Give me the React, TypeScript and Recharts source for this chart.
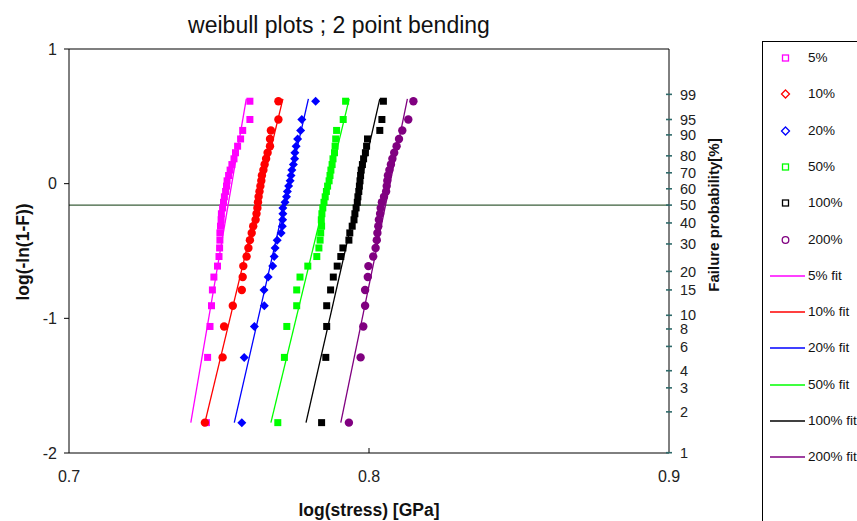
import React from 'react';
import { ScatterChart, Scatter, XAxis, YAxis, ReferenceLine } from 'recharts';

// plotting positions (median ranks of 30 specimens), log(-ln(1-F))
const rankY = [
  -1.7745, -1.29, -1.0604, -0.9064, -0.7891, -0.6935, -0.6122, -0.5411, -0.4774, -0.4193,
  -0.3657, -0.3157, -0.2684, -0.2234, -0.1802, -0.1384, -0.0977, -0.0578, -0.0182, 0.0211,
  0.0607, 0.1008, 0.1418, 0.1845, 0.2296, 0.2781, 0.3321, 0.3953, 0.4765, 0.6122,
];

// log(stress) per specimen, one list per rate
const stress5 = [
  0.7458, 0.7462, 0.747, 0.7475, 0.7478, 0.7483, 0.7495, 0.75, 0.7502, 0.7503,
  0.7503, 0.7505, 0.7507, 0.7508, 0.7512, 0.7515, 0.7518, 0.7522, 0.7525, 0.7527,
  0.7532, 0.7537, 0.7543, 0.755, 0.7555, 0.7562, 0.7572, 0.7579, 0.7603, 0.7603,
];
const stress10 = [
  0.7453, 0.7512, 0.7517, 0.7546, 0.7576, 0.7579, 0.7581, 0.7592, 0.7598, 0.7603,
  0.7609, 0.7614, 0.7622, 0.7625, 0.7628, 0.763, 0.7632, 0.7635, 0.7638, 0.7641,
  0.7643, 0.7648, 0.7652, 0.7657, 0.7662, 0.767, 0.767, 0.7673, 0.7698, 0.7698,
];
const stress20 = [
  0.7576, 0.7584, 0.7618, 0.7651, 0.765, 0.7664, 0.7679, 0.7684, 0.7687, 0.7694,
  0.7707, 0.7711, 0.7712, 0.7713, 0.7713, 0.772, 0.7725, 0.7728, 0.7732, 0.7737,
  0.774, 0.7743, 0.7748, 0.7752, 0.7753, 0.7757, 0.7762, 0.7772, 0.7776, 0.7822,
];
const stress50 = [
  0.7696, 0.7718, 0.7726, 0.7759, 0.7759, 0.777, 0.7796, 0.7826, 0.7833, 0.7837,
  0.7839, 0.7842, 0.7841, 0.7843, 0.7846, 0.785, 0.7854, 0.7858, 0.7862, 0.7867,
  0.787, 0.7873, 0.7877, 0.788, 0.7885, 0.7887, 0.7889, 0.7892, 0.7914, 0.7922,
];
const stress100 = [
  0.7842, 0.7856, 0.7859, 0.7859, 0.7872, 0.7881, 0.7894, 0.7906, 0.7913, 0.7933,
  0.7936, 0.7944, 0.795, 0.7953, 0.7957, 0.7961, 0.7963, 0.7966, 0.7968, 0.797,
  0.7972, 0.7974, 0.7978, 0.7982, 0.7988, 0.7992, 0.7995, 0.8036, 0.8043, 0.8048,
];
const stress200 = [
  0.7933, 0.7972, 0.7981, 0.7987, 0.7987, 0.7996, 0.7998, 0.8014, 0.8022, 0.8026,
  0.8028, 0.8031, 0.8033, 0.8037, 0.8039, 0.8043, 0.805, 0.8057, 0.8059, 0.8061,
  0.8063, 0.8068, 0.8073, 0.8078, 0.8084, 0.8092, 0.81, 0.8111, 0.8131, 0.8148,
];

// fitted lines: two end points each
const fitY = [-1.7745, 0.63];
const fit5 = [0.7406, 0.7591];
const fit10 = [0.7453, 0.7713];
const fit20 = [0.7551, 0.7798];
const fit50 = [0.7673, 0.7934];
const fit100 = [0.779, 0.8036];
const fit200 = [0.7906, 0.8128];

const xTicks = [0.7, 0.8, 0.9];
const yTicks = [-2, -1, 0, 1];
const probLabels = [99, 95, 90, 80, 70, 60, 50, 40, 30, 20, 15, 10, 8, 6, 4, 3, 2, 1];
const median = 50;

const toY = (p: number) => Math.log10(-Math.log(1 - p / 100));
const probTicks = probLabels.map(toY);

const FONT = 'Arial, "Liberation Sans", sans-serif';

type Shape = 'square' | 'diamond' | 'circle';
const series: { name: string; color: string; shape: Shape; xs: number[]; fit: number[] }[] = [
  { name: '5%', color: '#ff00ff', shape: 'square', xs: stress5, fit: fit5 },
  { name: '10%', color: '#ff0000', shape: 'circle', xs: stress10, fit: fit10 },
  { name: '20%', color: '#0000ff', shape: 'diamond', xs: stress20, fit: fit20 },
  { name: '50%', color: '#00ff00', shape: 'square', xs: stress50, fit: fit50 },
  { name: '100%', color: '#000000', shape: 'square', xs: stress100, fit: fit100 },
  { name: '200%', color: '#800080', shape: 'circle', xs: stress200, fit: fit200 },
];
const legendShapes: Shape[] = ['square', 'diamond', 'diamond', 'square', 'square', 'circle'];

const markerShape = (shape: Shape, color: string) => (p: any) => {
  const { cx, cy } = p;
  if (cx == null || cy == null) return <g />;
  if (shape === 'square') return <rect x={cx - 3.5} y={cy - 3.5} width={7} height={7} fill={color} />;
  if (shape === 'diamond')
    return <path d={`M${cx},${cy - 4.5}L${cx + 4.5},${cy}L${cx},${cy + 4.5}L${cx - 4.5},${cy}Z`} fill={color} />;
  return <circle cx={cx} cy={cy} r={4.2} fill={color} />;
};

const RightTick = (p: any) => {
  const { x, y, payload } = p;
  const i = probTicks.findIndex((v) => Math.abs(v - payload.value) < 1e-9);
  return (
    <g>
      <line x1={x - 3} x2={x + 3} y1={y} y2={y} stroke="#2f6a6a" strokeWidth={1.6} />
      <text x={x + 11} y={y} dy="0.36em" fontSize={14.5} fontFamily={FONT} fill="#222">
        {probLabels[i]}
      </text>
    </g>
  );
};

const XTick = (p: any) => {
  const { x, y, payload } = p;
  return (
    <g>
      {payload.value > 0.75 && payload.value < 0.85 && (
        <line x1={x} x2={x} y1={y} y2={y - 5} stroke="#000" />
      )}
      <text x={x} y={y + 29} textAnchor="middle" fontSize={16} fontFamily={FONT} fill="#222">
        {payload.value}
      </text>
    </g>
  );
};

function LegendBox() {
  const rows = [
    ...series.map((s, i) => ({ label: s.name, color: s.color, kind: legendShapes[i] as string })),
    ...series.map((s) => ({ label: s.name + ' fit', color: s.color, kind: 'line' })),
  ];
  return (
    <div
      style={{
        position: 'absolute',
        left: 762,
        top: 41,
        width: 130,
        height: 500,
        border: '1px solid #000',
        background: '#fff',
        fontFamily: FONT,
        fontSize: 13.5,
        color: '#111',
      }}
    >
      {rows.map((r, i) => {
        const cy = 16 + i * 36.3;
        return (
          <div key={r.label} style={{ position: 'absolute', left: 0, top: cy - 10, height: 20, width: 130 }}>
            <svg width={44} height={20} style={{ position: 'absolute', left: 0, top: 0 }}>
              {r.kind === 'line' && <line x1={7} x2={42} y1={10} y2={10} stroke={r.color} strokeWidth={1.5} />}
              {r.kind === 'square' && <rect x={19.5} y={7} width={6} height={6} fill="none" stroke={r.color} strokeWidth={1.3} />}
              {r.kind === 'diamond' && (
                <path d="M22.5,6L26.5,10L22.5,14L18.5,10Z" fill="none" stroke={r.color} strokeWidth={1.3} />
              )}
              {r.kind === 'circle' && <circle cx={22.5} cy={10} r={3.3} fill="none" stroke={r.color} strokeWidth={1.3} />}
            </svg>
            <span style={{ position: 'absolute', left: 45, top: 2, whiteSpace: 'nowrap' }}>{r.label}</span>
          </div>
        );
      })}
    </div>
  );
}

export default function App() {
  return (
    <div style={{ position: 'absolute', left: 0, top: 0, width: 857, height: 521, overflow: 'hidden', background: '#fff' }}>
      <ScatterChart width={857} height={521} margin={{ top: 49, right: 148, bottom: 0, left: 0 }}>
        <XAxis
          type="number"
          dataKey="x"
          domain={[0.7, 0.9]}
          ticks={xTicks}
          interval={0}
          tickLine={false}
          tickSize={0}
          tickMargin={0}
          tick={<XTick />}
          height={68}
          stroke="#000"
          allowDataOverflow
          label={{
            content: () => (
              <g fontFamily={FONT}>
                <text x={339} y={33} textAnchor="middle" fontSize={23} fill="#111">
                  weibull plots ; 2 point bending
                </text>
                <text x={369} y={516} textAnchor="middle" fontSize={17.5} fontWeight="bold" fill="#111">
                  log(stress) [GPa]
                </text>
              </g>
            ),
          }}
        />
        <YAxis
          yAxisId="left"
          type="number"
          dataKey="y"
          domain={[-2, 1]}
          ticks={yTicks}
          interval={0}
          width={69}
          tickSize={5}
          tickMargin={7}
          stroke="#000"
          tick={{ fontSize: 16, fontFamily: FONT, fill: '#222' }}
          allowDataOverflow
          label={{
            content: () => (
              <text
                x={23}
                y={252}
                transform="rotate(-90 23 252)"
                textAnchor="middle"
                dominantBaseline="central"
                fontFamily={FONT}
                fontSize={17.5}
                fontWeight="bold"
                fill="#111"
              >
                log(-ln(1-F))
              </text>
            ),
          }}
        />
        <YAxis
          yAxisId="right"
          orientation="right"
          type="number"
          domain={[-2, 1]}
          ticks={probTicks}
          interval={0}
          width={40}
          tickLine={false}
          tickSize={0}
          tickMargin={0}
          stroke="#000"
          tick={<RightTick />}
          allowDataOverflow
          label={{
            content: () => (
              <text
                x={713}
                y={215}
                transform="rotate(-90 713 215)"
                textAnchor="middle"
                dominantBaseline="central"
                fontFamily={FONT}
                fontSize={15}
                fontWeight="bold"
                fill="#111"
              >
                Failure probability[%]
              </text>
            ),
          }}
        />
        <ReferenceLine yAxisId="left" y={1} stroke="#000" strokeWidth={1.2} />
        <ReferenceLine yAxisId="right" y={toY(median)} stroke="#3b5f3b" strokeWidth={1.4} />
        {series.map((s) => (
          <Scatter
            key={s.name}
            name={s.name}
            yAxisId="left"
            data={rankY.map((y, i) => ({ x: s.xs[i], y }))}
            fill={s.color}
            shape={markerShape(s.shape, s.color)}
            isAnimationActive={false}
          />
        ))}
        {series.map((s) => (
          <Scatter
            key={s.name + ' fit'}
            name={s.name + ' fit'}
            yAxisId="left"
            data={fitY.map((y, i) => ({ x: s.fit[i], y }))}
            line={{ stroke: s.color, strokeWidth: 1.3 }}
            shape={() => <g />}
            isAnimationActive={false}
          />
        ))}
      </ScatterChart>
      <LegendBox />
    </div>
  );
}
